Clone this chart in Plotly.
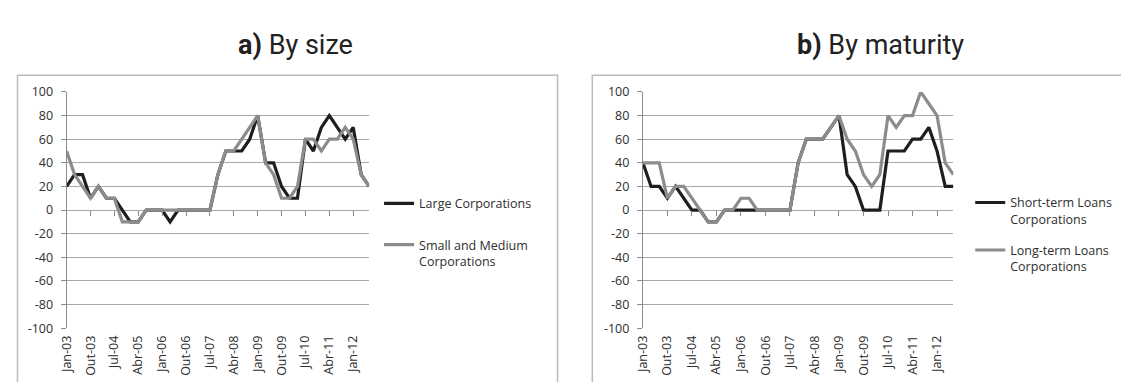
import plotly.graph_objects as go

# ---- data ----
months = ["Jan", "Abr", "Jul", "Out"]
years = ["03", "04", "05", "06", "07", "08", "09", "10", "11", "12"]
quarters = [f"{m}-{y}" for y in years for m in months][:39]  # Jan-03 .. Jul-12
tick_labels = quarters[::3]
y_ticks = [-100, -80, -60, -40, -20, 0, 20, 40, 60, 80, 100]
y_tick_text = [str(v) for v in y_ticks]

large_corp = [20, 30, 30, 10, 20, 10, 10, 0, -10, -10, 0, 0, 0, -10, 0, 0, 0, 0, 0,
              30, 50, 50, 50, 60, 80, 40, 40, 20, 10, 10, 60, 50, 70, 80, 70, 60, 70, 30, 20]
sme_corp = [50, 30, 20, 10, 20, 10, 10, -10, -10, -10, 0, 0, 0, 0, 0, 0, 0, 0, 0,
            30, 50, 50, 60, 70, 80, 40, 30, 10, 10, 20, 60, 60, 50, 60, 60, 70, 60, 30, 20]
short_term = [40, 20, 20, 10, 20, 10, 0, 0, -10, -10, 0, 0, 0, 0, 0, 0, 0, 0, 0,
              40, 60, 60, 60, 70, 80, 30, 20, 0, 0, 0, 50, 50, 50, 60, 60, 70, 50, 20, 20]
long_term = [40, 40, 40, 10, 20, 20, 10, 0, -10, -10, 0, 0, 10, 10, 0, 0, 0, 0, 0,
             40, 60, 60, 60, 70, 80, 60, 50, 30, 20, 30, 80, 70, 80, 80, 100, 90, 80, 40, 30]

panel_titles = ["<b>a)</b> By size", "<b>b)</b> By maturity"]
names_a = ["Large Corporations", "Small and Medium<br>Corporations"]
names_b = ["Short-term Loans<br>Corporations", "Long-term Loans<br>Corporations"]

# ---- style ----
# the page body has an 8px margin, so the figure is 16px smaller than the window
OFF = 8
W, H = 1129 - 2 * OFF, 390 - 2 * OFF
BLACK = "#1e1e1e"
GRAY = "#8c8c8c"
GRID = "#a8a8a8"
AXIS = "#8a8a8a"
TXT = "#2e2e2e"
FONT = "Open Sans"
FS = 12.5


def px_x(p):
    return (p - OFF) / W


def px_y(p):
    return (H - (p - OFF)) / H


y_dom = [px_y(334), px_y(86.5)]
zero_pos = (y_dom[0] + y_dom[1]) / 2

fig = go.Figure()

panels = [
    dict(xa="x", ya="y", xz="x3", series=[(large_corp, BLACK, names_a[0]), (sme_corp, GRAY, names_a[1])],
         legend="legend", dom=[px_x(58), px_x(363)]),
    dict(xa="x2", ya="y2", xz="x4", series=[(short_term, BLACK, names_b[0]), (long_term, GRAY, names_b[1])],
         legend="legend2", dom=[px_x(639), px_x(952)]),
]

for p in panels:
    for i, (vals, col, nm) in enumerate(p["series"]):
        fig.add_trace(go.Scatter(
            x=quarters, y=vals, mode="lines", name=nm,
            line=dict(color=col, width=3.2),
            xaxis=p["xa"], yaxis=p["ya"], legend=p["legend"],
            legendgroup=p["legend"] + str(i), hoverinfo="skip",
        ))
    # invisible trace to carry the tick axis drawn at y = 0
    fig.add_trace(go.Scatter(
        x=quarters, y=p["series"][0][0], mode="lines", line=dict(width=0),
        opacity=0, showlegend=False, hoverinfo="skip",
        xaxis=p["xz"], yaxis=p["ya"],
    ))

common_x = dict(
    type="category", range=[0, 38], tickmode="array", tickvals=tick_labels,
    ticktext=tick_labels, tickangle=-90, showgrid=False, zeroline=False,
    showline=False, ticks="", tickfont=dict(family=FONT, size=FS, color=TXT),
    ticklabelstandoff=4,
)
common_y = dict(
    range=[-100, 100], tickmode="array", tickvals=y_ticks, ticktext=y_tick_text,
    showgrid=True, gridcolor=GRID, gridwidth=1,
    zeroline=False, showline=True, linecolor=AXIS, linewidth=1, ticks="outside",
    ticklen=5, tickcolor=AXIS, tickfont=dict(family=FONT, size=FS, color=TXT),
    domain=y_dom, ticklabelstandoff=5,
)
zero_x = dict(
    type="category", range=[0, 38], tickmode="array", tickvals=tick_labels,
    showticklabels=False, showgrid=False, zeroline=False, showline=False,
    ticks="outside", ticklen=5, tickcolor=AXIS, anchor="free", position=zero_pos,
)

leg = dict(xanchor="left", yanchor="top", bgcolor="rgba(0,0,0,0)",
           font=dict(family=FONT, size=FS, color=TXT), itemwidth=30,
           valign="top", traceorder="grouped")

fig.update_layout(
    width=W, height=H, autosize=False,
    margin=dict(l=0, r=0, t=0, b=0),
    paper_bgcolor="white", plot_bgcolor="white",
    font=dict(family=FONT, size=FS, color=TXT),
    xaxis=dict(common_x, domain=panels[0]["dom"], anchor="y"),
    yaxis=dict(common_y, anchor="x"),
    xaxis2=dict(common_x, domain=panels[1]["dom"], anchor="y2"),
    yaxis2=dict(common_y, anchor="x2"),
    xaxis3=dict(zero_x, domain=panels[0]["dom"], overlaying="x"),
    xaxis4=dict(zero_x, domain=panels[1]["dom"], overlaying="x2"),
    legend=dict(leg, x=px_x(373), y=px_y(188), tracegroupgap=22),
    legend2=dict(leg, x=px_x(969), y=px_y(187), tracegroupgap=12),
    showlegend=True,
)

# panel frames
fig.add_shape(type="rect", xref="paper", yref="paper",
              x0=px_x(8.5), x1=px_x(553), y0=-0.1, y1=px_y(69),
              line=dict(color="#bcbcbc", width=1.5), layer="below")
fig.add_shape(type="rect", xref="paper", yref="paper",
              x0=px_x(588), x1=1.1, y0=-0.1, y1=px_y(69),
              line=dict(color="#bcbcbc", width=1.5), layer="below")

# panel titles
for txt, cx in zip(panel_titles, [px_x(289), px_x(879)]):
    fig.add_annotation(text=txt, x=cx, y=px_y(37), xref="paper", yref="paper",
                       xanchor="center", yanchor="middle", showarrow=False,
                       font=dict(family="Roboto", size=27, color="#222222"))

fig.write_html("out.html")
